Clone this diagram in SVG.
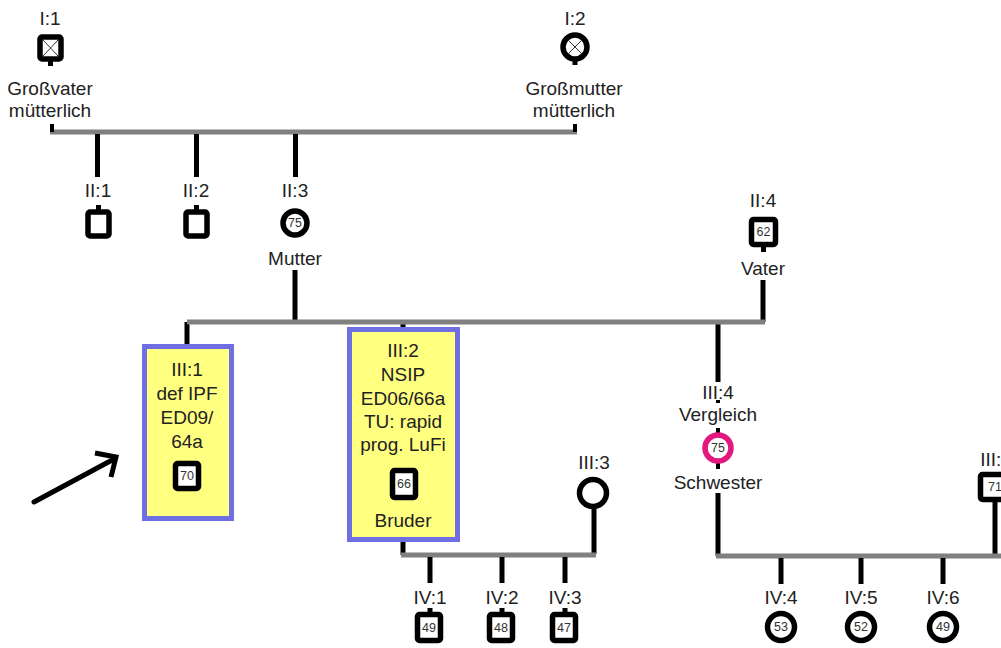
<svg xmlns="http://www.w3.org/2000/svg" width="1001" height="648" viewBox="0 0 1001 648">
<style>
text{font-family:"Liberation Sans",Arial,sans-serif;text-anchor:middle;fill:#222}
.lbl{font-size:19px}
.num{font-size:12.5px;fill:#333}
.v{stroke:#000;stroke-width:5;fill:none}
.h{stroke:#808080;stroke-width:5;fill:none}
.sq{fill:#fff;stroke:#000;stroke-width:5.5}
.ci{fill:#fff;stroke:#000;stroke-width:5.5}
.pk{fill:#fff;stroke:#e2187f;stroke-width:5.5}
.x{stroke:#333;stroke-width:1}
.box{fill:#ffff80;stroke:#6f6fe3;stroke-width:5}
.stub{fill:#000}
</style>
<rect width="1001" height="648" fill="#fff"/>
<g id="connectors">
<line class="h" x1="50" y1="132" x2="577" y2="132"/>
<rect class="stub" x="50" y="124" width="4" height="8"/>
<rect class="stub" x="573" y="124" width="4" height="8"/>
<line class="v" x1="97.5" y1="134" x2="97.5" y2="177"/>
<line class="v" x1="196.5" y1="134" x2="196.5" y2="177"/>
<line class="v" x1="295.5" y1="134" x2="295.5" y2="177"/>
<line class="v" x1="295" y1="270" x2="295" y2="322"/>
<line class="v" x1="763" y1="280" x2="763" y2="322"/>
<line class="v" x1="187" y1="322" x2="187" y2="346"/>
<line class="v" x1="403" y1="322" x2="403" y2="330"/>
<line class="v" x1="718" y1="322" x2="718" y2="382"/>
<line class="h" x1="187" y1="322" x2="765" y2="322"/>
<line class="v" x1="403" y1="540" x2="403" y2="555"/>
<line class="v" x1="594" y1="506" x2="594" y2="554"/>
<line class="h" x1="401" y1="555" x2="596" y2="555"/>
<line class="v" x1="430" y1="557" x2="430" y2="583"/>
<line class="v" x1="502" y1="557" x2="502" y2="583"/>
<line class="v" x1="565" y1="557" x2="565" y2="583"/>
<line class="v" x1="718" y1="493" x2="718" y2="556"/>
<line class="v" x1="995" y1="500" x2="995" y2="556"/>
<line class="h" x1="716" y1="556" x2="1001" y2="556"/>
<line class="v" x1="781" y1="558" x2="781" y2="584"/>
<line class="v" x1="861" y1="558" x2="861" y2="584"/>
<line class="v" x1="943" y1="558" x2="943" y2="584"/>
</g>
<g id="I-1">
<text class="lbl" x="50" y="25">I:1</text>
<rect class="sq" x="40" y="37" width="21" height="22" rx="2"/>
<line class="x" x1="43" y1="40" x2="58" y2="56"/>
<line class="x" x1="58" y1="40" x2="43" y2="56"/>
<rect class="stub" x="48" y="60" width="5" height="6"/>
<text class="lbl" x="50" y="95">Großvater</text>
<text class="lbl" x="50" y="117">mütterlich</text>
</g>
<g id="I-2">
<text class="lbl" x="575" y="25">I:2</text>
<circle class="ci" cx="575" cy="47" r="12"/>
<line class="x" x1="568" y1="40" x2="582" y2="54"/>
<line class="x" x1="582" y1="40" x2="568" y2="54"/>
<rect class="stub" x="572.5" y="59" width="5" height="6"/>
<text class="lbl" x="574" y="95">Großmutter</text>
<text class="lbl" x="574" y="117">mütterlich</text>
</g>
<g id="II-1">
<text class="lbl" x="98" y="197">II:1</text>
<rect class="stub" x="96" y="205" width="5" height="6"/>
<rect class="sq" x="88" y="212" width="21" height="24" rx="2"/>
</g>
<g id="II-2">
<text class="lbl" x="196" y="197">II:2</text>
<rect class="stub" x="194" y="205" width="5" height="6"/>
<rect class="sq" x="186" y="212" width="21" height="24" rx="2"/>
</g>
<g id="II-3">
<text class="lbl" x="295" y="197">II:3</text>
<circle class="ci" cx="295" cy="223" r="12"/>
<text class="num" x="295" y="227">75</text>
<text class="lbl" x="295" y="265">Mutter</text>
</g>
<g id="II-4">
<text class="lbl" x="763" y="207">II:4</text>
<rect class="sq" x="751.5" y="219.5" width="24" height="25" rx="2"/>
<text class="num" x="763.5" y="236">62</text>
<rect class="stub" x="761" y="246" width="5" height="6"/>
<text class="lbl" x="763" y="275">Vater</text>
</g>
<g id="III-1">
<rect class="box" x="144.5" y="346.5" width="87" height="172"/>
<text class="lbl" x="187" y="376">III:1</text>
<text class="lbl" x="187" y="400">def IPF</text>
<text class="lbl" x="187" y="424">ED09/</text>
<text class="lbl" x="187" y="448">64a</text>
<rect class="sq" x="175.5" y="463.5" width="23" height="25" rx="2"/>
<text class="num" x="187" y="480">70</text>
</g>
<g id="III-2">
<rect class="box" x="349.5" y="329.5" width="108" height="210"/>
<text class="lbl" x="403" y="357">III:2</text>
<text class="lbl" x="403" y="381">NSIP</text>
<text class="lbl" x="403" y="405">ED06/66a</text>
<text class="lbl" x="403" y="428">TU: rapid</text>
<text class="lbl" x="403" y="451">prog. LuFi</text>
<rect class="sq" x="392.5" y="470.5" width="23" height="27" rx="2"/>
<text class="num" x="404" y="488">66</text>
<text class="lbl" x="403" y="527">Bruder</text>
</g>
<g id="III-3">
<text class="lbl" x="594" y="469">III:3</text>
<circle class="ci" cx="593" cy="493" r="13.5"/>
</g>
<g id="III-4">
<text class="lbl" x="718" y="399">III:4</text>
<rect class="stub" x="716" y="400" width="4" height="3"/>
<text class="lbl" x="718" y="421">Vergleich</text>
<rect class="stub" x="716" y="428" width="4" height="5"/>
<rect class="stub" x="716" y="463" width="4" height="6"/>
<circle class="pk" cx="718" cy="448" r="13"/>
<text class="num" x="718" y="452">75</text>
<text class="lbl" x="718" y="489">Schwester</text>
</g>
<g id="III-5">
<text class="lbl" x="996" y="466">III:5</text>
<rect class="sq" x="980.5" y="474.5" width="25" height="25" rx="2"/>
<text class="num" x="995" y="491">71</text>
</g>
<g id="IV-1">
<text class="lbl" x="430" y="604">IV:1</text>
<rect class="stub" x="427.5" y="608" width="5" height="6"/>
<rect class="sq" x="417.5" y="614.5" width="23" height="26" rx="2"/>
<text class="num" x="429" y="632">49</text>
</g>
<g id="IV-2">
<text class="lbl" x="502" y="604">IV:2</text>
<rect class="stub" x="499.5" y="608" width="5" height="6"/>
<rect class="sq" x="489.5" y="614.5" width="23" height="26" rx="2"/>
<text class="num" x="501" y="632">48</text>
</g>
<g id="IV-3">
<text class="lbl" x="565" y="604">IV:3</text>
<rect class="stub" x="562.5" y="608" width="5" height="6"/>
<rect class="sq" x="552.5" y="614.5" width="23" height="26" rx="2"/>
<text class="num" x="564" y="632">47</text>
</g>
<g id="IV-4">
<text class="lbl" x="781" y="604">IV:4</text>
<circle class="ci" cx="781" cy="627" r="13.5"/>
<text class="num" x="781" y="631">53</text>
</g>
<g id="IV-5">
<text class="lbl" x="861" y="604">IV:5</text>
<circle class="ci" cx="861" cy="627" r="13.5"/>
<text class="num" x="861" y="631">52</text>
</g>
<g id="IV-6">
<text class="lbl" x="943" y="604">IV:6</text>
<circle class="ci" cx="943" cy="627" r="13.5"/>
<text class="num" x="943" y="631">49</text>
</g>
<g id="arrow">
<line x1="34" y1="502" x2="114" y2="459" stroke="#000" stroke-width="5" stroke-linecap="round"/>
<polyline points="95,453 116,457 111,477" fill="none" stroke="#000" stroke-width="5" stroke-linejoin="miter"/>
</g>
</svg>
